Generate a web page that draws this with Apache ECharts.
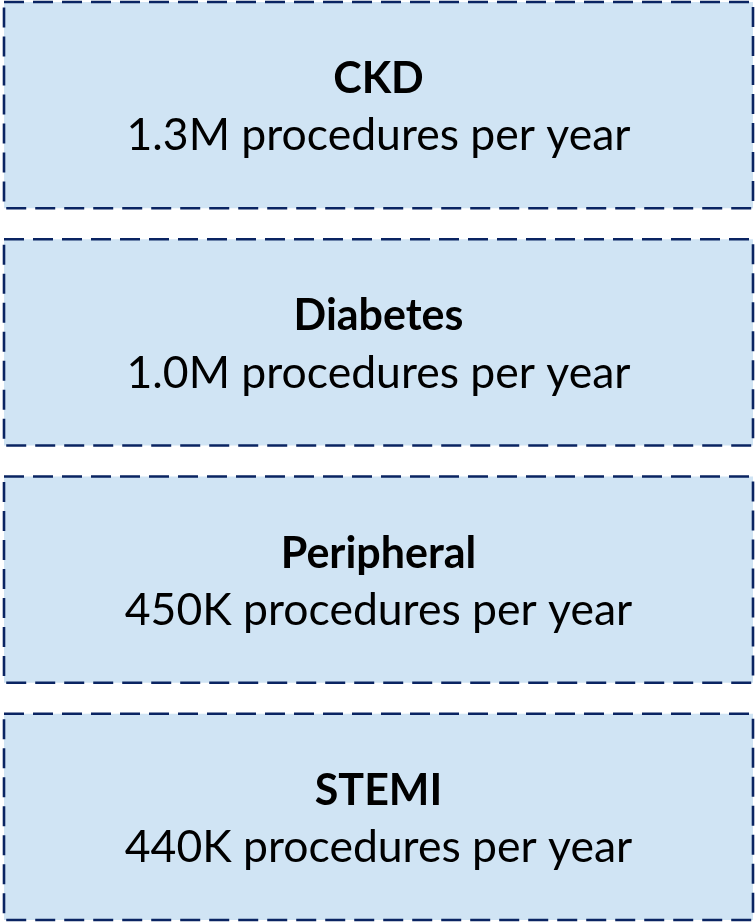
<!DOCTYPE html>
<html>
<head>
<meta charset="utf-8">
<script src="https://cdn.jsdelivr.net/npm/echarts@6/dist/echarts.min.js"></script>
<style>
  html, body { margin: 0; padding: 0; background: #fff; }
  #chart { width: 756px; height: 922px; }
</style>
</head>
<body>
<div id="chart"></div>
<script>
// 数据
var categories = ['CKD', 'Diabetes', 'Peripheral', 'STEMI'];
var volumes = ['1.3M', '1.0M', '450K', '440K'];
var unitText = 'procedures per year';

(function () {
  var myChart = echarts.init(document.getElementById('chart'));
  // 每个框占一格的比例
  var boxRatio = 206 / 237;
  var half = boxRatio / 2;
  var option = {
    animation: false,
    grid: {
      left: 4,
      right: 3,
      top: 2,
      bottom: 2
    },
    xAxis: { type: 'value', min: 0, max: 1, show: false },
    yAxis: {
      type: 'value',
      min: -half,
      max: categories.length - 1 + half,
      inverse: true,
      show: false
    },
    series: [{
      type: 'custom',
      data: categories.map(function (c, i) { return [0.5, i]; }),
      renderItem: function (params, api) {
        var i = api.value(1);
        var topLeft = api.coord([0, i - half]);
        var bottomRight = api.coord([1, i + half]);
        var center = api.coord([0.5, i]);
        return {
          type: 'group',
          children: [{
            type: 'rect',
            shape: {
              x: topLeft[0],
              y: topLeft[1],
              width: bottomRight[0] - topLeft[0],
              height: bottomRight[1] - topLeft[1]
            },
            style: {
              fill: '#d0e4f4',
              stroke: '#0a2462',
              lineWidth: 2.6,
              lineDash: [20, 9]
            }
          }, {
            type: 'text',
            style: {
              x: center[0], y: center[1] - 26,
              text: categories[i],
              fill: '#000',
              font: 'bold 43px Lato',
              align: 'center',
              verticalAlign: 'middle'
            }
          }, {
            type: 'text',
            style: {
              x: center[0], y: center[1] + 31,
              text: volumes[i] + ' ' + unitText,
              fill: '#000',
              font: '44.5px Lato',
              align: 'center',
              verticalAlign: 'middle'
            }
          }]
        };
      }
    }]
  };
  myChart.setOption(option);
})();
</script>
</body>
</html>
